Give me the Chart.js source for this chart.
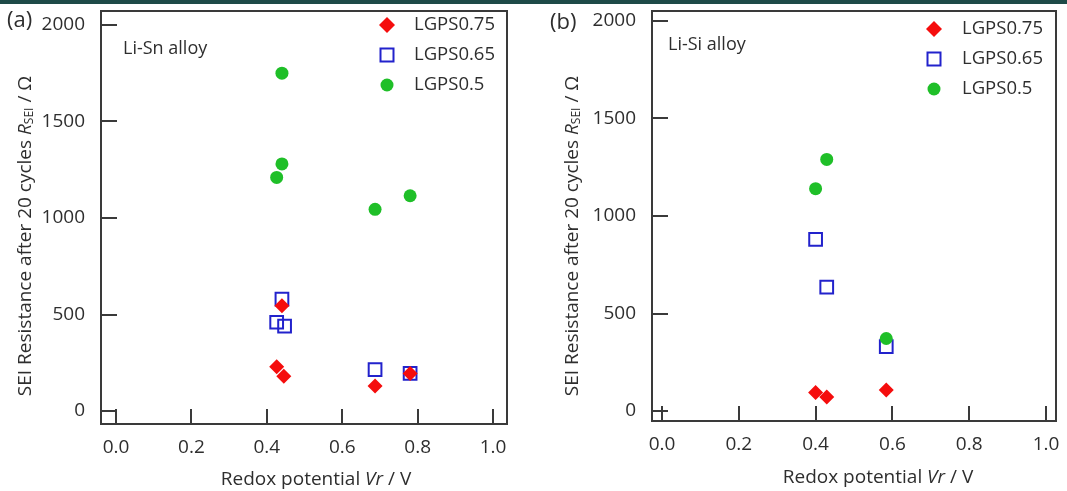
<!DOCTYPE html>
<html>
<head>
<meta charset="utf-8">
<script src="https://cdn.jsdelivr.net/npm/chart.js@4/dist/chart.umd.min.js"></script>
<style>
  body { margin: 0; background: #fff; width: 1067px; height: 491px; overflow: hidden; position: relative; }
  .topbar { position: absolute; left: 0; top: 0; width: 1067px; height: 4px; background: #1e4a48; }
  canvas { position: absolute; top: 0; }
</style>
</head>
<body>
<div class="topbar"></div>
<canvas id="chartSn" width="535" height="491" style="left:0px"></canvas>
<canvas id="chartSi" width="527" height="491" style="left:540px"></canvas>
<script>
// series names
const seriesNames = ['LGPS0.75', 'LGPS0.65', 'LGPS0.5'];

// Li-Sn alloy: redox potential (V) and SEI resistance (ohm)
const snX075 = [0.44, 0.426, 0.445, 0.687, 0.78];
const snY075 = [545, 230, 180, 130, 195];
const snX065 = [0.44, 0.426, 0.447, 0.687, 0.78];
const snY065 = [580, 460, 440, 215, 195];
const snX05 = [0.44, 0.44, 0.426, 0.687, 0.78];
const snY05 = [1750, 1280, 1210, 1045, 1115];

// Li-Si alloy
const siX075 = [0.40, 0.429, 0.584];
const siY075 = [95, 72, 108];
const siX065 = [0.40, 0.429, 0.584];
const siY065 = [880, 635, 330];
const siX05 = [0.429, 0.40, 0.584];
const siY05 = [1290, 1140, 372];

// axis ticks
const xTicks = [0.0, 0.2, 0.4, 0.6, 0.8, 1.0];
const yTicks = [0, 500, 1000, 1500, 2000];

const RED = '#f50d0d';
const BLUE = '#2222cc';
const GREEN = '#1fbf28';
const FONT = '"Open Sans", "Noto Sans", sans-serif';
const TEXT = '#2e2e2e';

function toPoints(xs, ys) {
  return xs.map((x, i) => ({ x: x, y: ys[i] }));
}

function drawMarker(ctx, kind, x, y, r) {
  ctx.beginPath();
  if (kind === 'diamond') {
    ctx.moveTo(x, y - r); ctx.lineTo(x + r, y); ctx.lineTo(x, y + r); ctx.lineTo(x - r, y); ctx.closePath();
    ctx.fillStyle = RED; ctx.fill();
  } else if (kind === 'square') {
    ctx.rect(x - r, y - r, 2 * r, 2 * r);
    ctx.strokeStyle = BLUE; ctx.lineWidth = 2; ctx.stroke();
  } else {
    ctx.arc(x, y, r, 0, Math.PI * 2);
    ctx.fillStyle = GREEN; ctx.fill();
  }
}

function drawRich(ctx, parts, x, y) {
  let total = 0;
  parts.forEach(p => { ctx.font = p.font; p.w = ctx.measureText(p.text).width; total += p.w; });
  let cx = x - total / 2;
  parts.forEach(p => {
    ctx.font = p.font;
    ctx.fillText(p.text, cx, y + (p.dy || 0));
    cx += p.w;
  });
}

// frame, inward ticks, legend and labels
const decor = {
  id: 'decor',
  afterDraw(chart, args, o) {
    const ctx = chart.ctx, a = chart.chartArea;
    const xs = chart.scales.x, ys = chart.scales.y;
    ctx.save();
    ctx.strokeStyle = '#3a3a3a';
    ctx.lineWidth = 2;
    ctx.strokeRect(a.left, a.top, a.right - a.left, a.bottom - a.top);
    ctx.beginPath();
    xs.ticks.forEach(t => {
      const px = Math.round(xs.getPixelForValue(t.value));
      ctx.moveTo(px, a.bottom); ctx.lineTo(px, a.bottom - 15);
    });
    ys.ticks.forEach(t => {
      const py = Math.round(ys.getPixelForValue(t.value));
      ctx.moveTo(a.left, py); ctx.lineTo(a.left + 16, py);
    });
    ctx.stroke();

    ctx.fillStyle = TEXT;
    ctx.textBaseline = 'middle';
    ctx.textAlign = 'left';
    ctx.font = '22px ' + FONT;
    ctx.fillText(o.tag, o.tagX, o.tagY);
    ctx.font = '18px ' + FONT;
    ctx.fillText(o.alloy, o.alloyX, o.alloyY);

    // legend
    const kinds = [['diamond', 8], ['square', 6.5], ['circle', 6.5]];
    seriesNames.forEach((name, i) => {
      const y = o.legY + i * o.legGap;
      drawMarker(ctx, kinds[i][0], o.legMarkX, y, kinds[i][1]);
      ctx.fillStyle = TEXT;
      ctx.font = '18.5px ' + FONT;
      ctx.fillText(name, o.legTextX, y);
    });

    // x title
    const base = '19px ' + FONT, ital = 'italic 19px ' + FONT;
    drawRich(ctx, [
      { text: 'Redox potential ', font: base },
      { text: 'Vr', font: ital },
      { text: ' / V', font: base }
    ], o.xTitleX, o.xTitleY);

    // y title
    ctx.save();
    ctx.translate(o.yTitleX, o.yTitleY);
    ctx.rotate(-Math.PI / 2);
    drawRich(ctx, [
      { text: 'SEI Resistance after 20 cycles ', font: '19px ' + FONT },
      { text: 'R', font: 'italic 19px ' + FONT },
      { text: 'SEI', font: '12px ' + FONT, dy: 4 },
      { text: ' / \u03A9', font: '19px ' + FONT }
    ], 0, 0);
    ctx.restore();
    ctx.restore();
  }
};

function makePanel(id, sets, L) {
  new Chart(document.getElementById(id), {
    type: 'scatter',
    data: {
      datasets: [
        { label: seriesNames[0], data: toPoints(sets[0][0], sets[0][1]), pointStyle: 'rectRot',
          pointRadius: 7.5, backgroundColor: RED, borderColor: RED, borderWidth: 0, order: L.order[0] },
        { label: seriesNames[1], data: toPoints(sets[1][0], sets[1][1]), pointStyle: 'rect',
          pointRadius: 9, backgroundColor: 'rgba(0,0,0,0)', borderColor: BLUE, borderWidth: 2, order: L.order[1] },
        { label: seriesNames[2], data: toPoints(sets[2][0], sets[2][1]), pointStyle: 'circle',
          pointRadius: 6.5, backgroundColor: GREEN, borderColor: GREEN, borderWidth: 0, order: L.order[2] }
      ]
    },
    options: {
      responsive: false,
      animation: false,
      events: [],
      layout: { padding: { left: 0, right: L.padRight, top: L.padTop, bottom: 0 } },
      scales: {
        x: {
          type: 'linear', min: L.xMin, max: L.xMax,
          afterBuildTicks: s => { s.ticks = xTicks.map(v => ({ value: v })); },
          afterFit: s => { s.height = L.xHeight; s.paddingLeft = 0; s.paddingRight = 0; },
          grid: { display: false }, border: { display: false },
          ticks: { padding: 4, color: TEXT, font: { family: FONT, size: 19 }, callback: v => v.toFixed(1) }
        },
        y: {
          type: 'linear', min: L.yMin, max: L.yMax,
          afterBuildTicks: s => { s.ticks = yTicks.map(v => ({ value: v })); },
          afterFit: s => { s.width = L.yWidth; s.paddingTop = 0; s.paddingBottom = 0; },
          grid: { display: false }, border: { display: false },
          ticks: { padding: 8, color: TEXT, font: { family: FONT, size: 19 }, callback: v => String(v) }
        }
      },
      plugins: {
        legend: { display: false },
        tooltip: { enabled: false },
        decor: L.decor
      }
    },
    plugins: [decor]
  });
}

makePanel('chartSn', [[snX075, snY075], [snX065, snY065], [snX05, snY05]], {
  xMin: -0.04, xMax: 1.037, yMin: -67, yMax: 2072,
  padRight: 28, padTop: 7, yWidth: 101, xHeight: 67,
  order: [0, 1, 2],
  decor: {
    tag: '(a)', tagX: 7, tagY: 21,
    alloy: 'Li-Sn alloy', alloyX: 123, alloyY: 49,
    legMarkX: 387, legTextX: 414, legY: 25, legGap: 30,
    xTitleX: 316, xTitleY: 480, yTitleX: 26, yTitleY: 236
  }
});

makePanel('chartSi', [[siX075, siY075], [siX065, siY065], [siX05, siY05]], {
  xMin: -0.026, xMax: 1.026, yMin: -51, yMax: 2051,
  padRight: 10, padTop: 11, yWidth: 112, xHeight: 70,
  order: [0, 2, 1],
  decor: {
    tag: '(b)', tagX: 10, tagY: 23,
    alloy: 'Li-Si alloy', alloyX: 128, alloyY: 45,
    legMarkX: 394, legTextX: 422, legY: 29, legGap: 30,
    xTitleX: 338, xTitleY: 478, yTitleX: 33, yTitleY: 236
  }
});
</script>
</body>
</html>
